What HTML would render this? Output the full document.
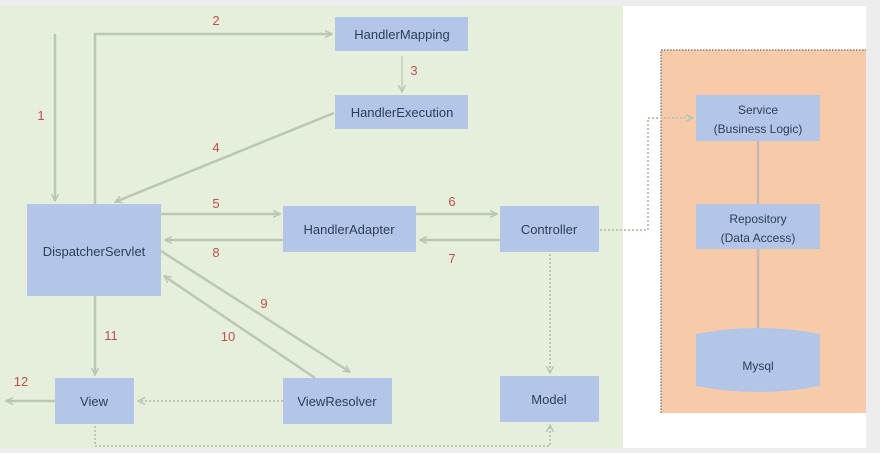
<!DOCTYPE html>
<html><head><meta charset="utf-8"><style>
html,body{margin:0;padding:0;background:#ededed;width:880px;height:453px;overflow:hidden}
</style></head><body>
<svg width="880" height="453" xmlns="http://www.w3.org/2000/svg" font-family="Liberation Sans, sans-serif">
<defs>
<marker id="a" markerWidth="8" markerHeight="8" refX="7" refY="4" orient="auto" markerUnits="userSpaceOnUse"><path d="M0,0.5 L7,4 L0,7.5" fill="none" stroke="#b9c7b3" stroke-width="1.5"/></marker>
</defs>
<rect x="0" y="6" width="623" height="442" fill="#e6efdc"/>
<rect x="623" y="6" width="243" height="442" fill="#ffffff"/>
<rect x="661" y="50" width="205" height="363" fill="#f7cbaa"/>
<path d="M661,413 V50 H866" fill="none" stroke="#8a7a70" stroke-width="1.5" stroke-dasharray="1.5,1.5"/>
<g stroke="#b9c7b3" stroke-width="2.5" fill="none">
<line x1="55" y1="34" x2="55" y2="201" marker-end="url(#a)"/>
<polyline points="95,204 95,34 332,34" marker-end="url(#a)"/>
<line x1="402" y1="56" x2="402" y2="92" stroke-width="1.2" marker-end="url(#a)"/>
<line x1="334" y1="113" x2="115" y2="202" marker-end="url(#a)"/>
<line x1="161" y1="214" x2="280" y2="214" marker-end="url(#a)"/>
<line x1="283" y1="240" x2="165" y2="240" marker-end="url(#a)"/>
<line x1="416" y1="214" x2="497" y2="214" marker-end="url(#a)"/>
<line x1="500" y1="240" x2="420" y2="240" marker-end="url(#a)"/>
<line x1="161" y1="251" x2="350" y2="372" marker-end="url(#a)"/>
<line x1="315" y1="378" x2="164" y2="276" marker-end="url(#a)"/>
<line x1="95" y1="296" x2="95" y2="375" marker-end="url(#a)"/>
<line x1="55" y1="401" x2="6" y2="401" marker-end="url(#a)"/>
</g>
<g stroke="#b9c7b3" stroke-width="2" fill="none" stroke-dasharray="2,2">
<line x1="283" y1="401" x2="138" y2="401" marker-end="url(#a)"/>
<line x1="550" y1="254" x2="550" y2="373" marker-end="url(#a)"/>
<polyline points="95,426 95,446 550,446 550,425" marker-end="url(#a)"/>
<polyline points="600,230 648,230 648,118 693,118" marker-end="url(#a)"/>
</g>
<g stroke="#c8b6b6" stroke-width="2.5"><line x1="758" y1="141" x2="758" y2="204"/><line x1="758" y1="249" x2="758" y2="330"/></g>
<g fill="#b4c6e7">
<rect x="335" y="17" width="133" height="34"/>
<rect x="335" y="95" width="133" height="34"/>
<rect x="27" y="204" width="134" height="92"/>
<rect x="283" y="206" width="133" height="46"/>
<rect x="500" y="206" width="99" height="46"/>
<rect x="55" y="378" width="79" height="46"/>
<rect x="283" y="378" width="109" height="46"/>
<rect x="500" y="376" width="99" height="46"/>
<rect x="696" y="95" width="124" height="46"/>
<rect x="696" y="204" width="124" height="45"/>
<path d="M696,334 Q758,322 820,334 V386 Q758,398 696,386 Z"/>
</g>
<g fill="#2f3d5c" font-size="13" text-anchor="middle">
<text x="402" y="39">HandlerMapping</text>
<text x="402" y="117">HandlerExecution</text>
<text x="94" y="256">DispatcherServlet</text>
<text x="349" y="234">HandlerAdapter</text>
<text x="549" y="234">Controller</text>
<text x="94" y="406">View</text>
<text x="337" y="406">ViewResolver</text>
<text x="549" y="404">Model</text>
<text x="758" y="114" font-size="12">Service</text>
<text x="758" y="133" font-size="12">(Business Logic)</text>
<text x="758" y="223" font-size="12">Repository</text>
<text x="758" y="242" font-size="12">(Data Access)</text>
<text x="758" y="370" font-size="12">Mysql</text>
</g>
<g fill="#c0504d" font-size="13" text-anchor="middle">
<text x="216" y="25">2</text>
<text x="41" y="120">1</text>
<text x="414" y="75">3</text>
<text x="216" y="152">4</text>
<text x="216" y="208">5</text>
<text x="216" y="257">8</text>
<text x="452" y="206">6</text>
<text x="452" y="263">7</text>
<text x="264" y="308">9</text>
<text x="228" y="341">10</text>
<text x="111" y="340">11</text>
<text x="21" y="386">12</text>
</g>
</svg>
</body></html>
